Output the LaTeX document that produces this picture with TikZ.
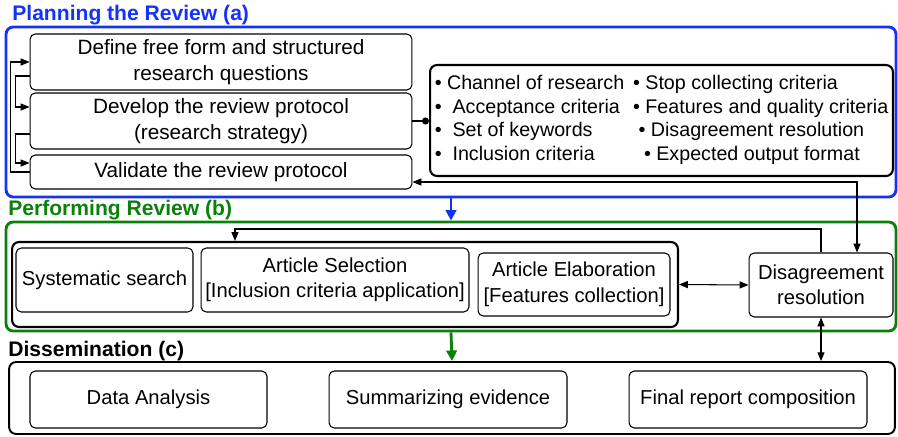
\documentclass[tikz,border=0pt]{standalone}
\usepackage{fontspec}
\setmainfont{Liberation Sans}
\usetikzlibrary{arrows.meta, calc, positioning}
\definecolor{planblue}{RGB}{20, 50, 250}
\definecolor{perfgreen}{RGB}{10, 130, 10}
\tikzset{
  stepbox/.style={draw, rounded corners=3pt, align=center, inner sep=2pt, line width=0.6pt, font=\fontsize{11.5}{14.5}\selectfont},
  phaseframe/.style={draw, rounded corners=4pt, line width=1.6pt},
  phasetitle/.style={anchor=base west, inner sep=0pt, font=\fontsize{12}{14}\selectfont\bfseries},
  flow/.style={-{Triangle[length=5pt,width=4pt]}, line width=0.6pt},
  twoway/.style={{Triangle[length=5pt,width=4pt]}-{Triangle[length=5pt,width=4pt]}, line width=0.6pt},
  phasearrow/.style={-{Triangle[length=6pt,width=6pt]}, line width=1.6pt},
}

\begin{document}
\begin{tikzpicture}[x=0.02cm, y=-0.02cm]
  \useasboundingbox (0,0) rectangle (898,436);

  % Phase (a): planning
  \node[phasetitle, text=planblue] (plantitle) at (12,20) {Planning the Review (a)};
  \node[phaseframe, draw=planblue, minimum width=17.8cm, minimum height=3.4cm] (planframe) at (451,112) {};

  \node[stepbox, minimum width=7.64cm, minimum height=1.12cm, font=\fontsize{11.8}{14.7}\selectfont] (define) at (221,62) {Define free form and structured\\research questions};
  \node[stepbox, minimum width=7.64cm, minimum height=1.12cm, font=\fontsize{11.8}{14.7}\selectfont] (develop) at (221,121) {Develop the review protocol\\(research strategy)};
  \node[stepbox, minimum width=7.64cm, minimum height=0.68cm, font=\fontsize{11.8}{14.7}\selectfont] (validate) at (221,172) {Validate the review protocol};

  % Protocol contents
  \node[draw, rounded corners=4pt, line width=1.2pt, minimum width=9.26cm, minimum height=2.22cm, inner sep=2pt, font=\fontsize{11.2}{13.4}\selectfont] (criteria) at (661.5,120.5) {
    \begin{tabular}{@{}l@{\hspace{5pt}}l@{}}
      \textbullet\ Channel of research & \textbullet\ Stop collecting criteria\\
      \textbullet\ \ Acceptance criteria & \textbullet\ Features and quality criteria\\
      \textbullet\ \ Set of keywords & \ \textbullet\ Disagreement resolution\\
      \textbullet\ \ Inclusion criteria & \ \ \textbullet\ Expected output format
    \end{tabular}
  };

  % Phase (b): performing
  \node[phasetitle, text=perfgreen] (perftitle) at (8,215) {Performing Review (b)};
  \node[phaseframe, draw=perfgreen, minimum width=17.8cm, minimum height=2.18cm] (perfframe) at (451,276.5) {};

  \node[draw, rounded corners=4pt, line width=1.2pt, minimum width=13.32cm, minimum height=1.7cm] (inner) at (345,284.5) {};
  \node[stepbox, minimum width=3.54cm, minimum height=1.28cm] (search) at (104.5,280) {Systematic search};
  \node[stepbox, minimum width=5.36cm, minimum height=1.28cm] (selection) at (335,280) {Article Selection\\{[}Inclusion criteria application{]}};
  \node[stepbox, minimum width=3.84cm, minimum height=1.26cm] (elaboration) at (574,284.5) {Article Elaboration\\{[}Features collection{]}};
  \node[stepbox, minimum width=2.88cm, minimum height=1.28cm] (disagree) at (821,285) {Disagreement\\resolution};

  % Phase (c): dissemination
  \node[phasetitle] (disstitle) at (8,356) {Dissemination (c)};
  \node[draw, rounded corners=4pt, line width=1.1pt, minimum width=17.72cm, minimum height=1.44cm] (dissframe) at (452,398) {};

  \node[stepbox, minimum width=4.74cm, minimum height=1.14cm] (analysis) at (148.5,399.5) {Data Analysis};
  \node[stepbox, minimum width=4.76cm, minimum height=1.14cm] (summary) at (448,399.5) {Summarizing evidence};
  \node[stepbox, minimum width=4.76cm, minimum height=1.14cm] (report) at (748,399.5) {Final report composition};

  % Planning loop
  \draw[flow] (validate.west) -- ++(-19,0) |- (define.west);
  \draw[flow] ($(define.west)+(0,14)$) -- ++(-14,0) |- ($(develop.west)+(0,-14)$);
  \draw[flow] ($(develop.west)+(0,13)$) -- ++(-14,0) |- ($(validate.west)+(0,-9)$);
  \draw[-{Circle[length=4pt]}, line width=0.6pt] (develop.east) -- (develop.east -| criteria.west);

  % Links between phases
  \draw[twoway] ($(validate.east)+(0,10)$) -| ($(disagree.north)+(36,0)$);
  \draw[phasearrow, planblue] (planframe.south) -- (perfframe.north);
  \draw[phasearrow, perfgreen] (perfframe.south) -- (dissframe.north);
  \draw[twoway] (inner.east) -- (disagree.west);
  \coordinate (loop) at (235,229);
  \draw[flow] (disagree.north) |- (loop) -- (loop |- inner.north);
  \draw[twoway] (disagree.south) -- (disagree.south |- dissframe.north);
\end{tikzpicture}
\end{document}
